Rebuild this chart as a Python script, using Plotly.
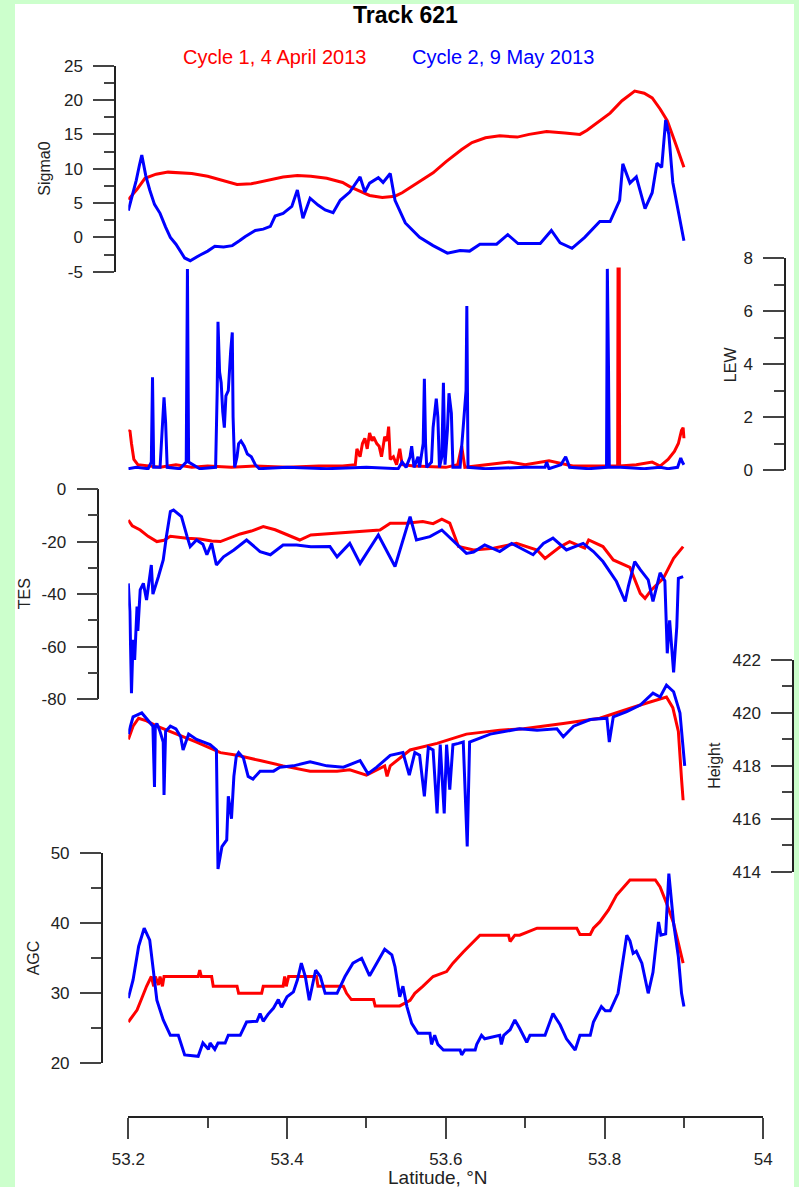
import plotly.graph_objects as go

# ---------------- DATA (latitude in deg N) ----------------
sig_c1_lat = [53.200, 53.211, 53.221, 53.235, 53.250, 53.265, 53.280, 53.300, 53.320, 53.337, 53.355, 53.375,
              53.395, 53.413, 53.430, 53.450, 53.470, 53.479, 53.490, 53.504, 53.520, 53.536, 53.545, 53.560,
              53.584, 53.600, 53.620, 53.633, 53.650, 53.668, 53.690, 53.705, 53.727, 53.750, 53.769, 53.778,
              53.795, 53.807, 53.822, 53.838, 53.850, 53.860, 53.870, 53.879, 53.890, 53.900]
sig_c1 = [5.5, 7.0, 8.6, 9.2, 9.5, 9.4, 9.3, 8.9, 8.3, 7.7, 7.8, 8.3,
          8.8, 9.0, 8.9, 8.6, 8.0, 7.4, 6.8, 6.1, 5.8, 6.0, 6.5, 7.6,
          9.4, 11.0, 12.8, 13.8, 14.5, 14.8, 14.6, 15.0, 15.4, 15.2, 15.0, 15.6,
          17.0, 18.1, 19.9, 21.3, 21.0, 20.3, 18.7, 17.0, 13.5, 10.2]

sig_c2_lat = [53.200, 53.206, 53.210, 53.214, 53.217, 53.222, 53.227, 53.233, 53.240, 53.247, 53.253, 53.260,
              53.265, 53.271, 53.278, 53.285, 53.290, 53.300, 53.309, 53.320, 53.331, 53.340, 53.347, 53.360,
              53.370, 53.379, 53.385, 53.395, 53.406, 53.413, 53.420, 53.429, 53.439, 53.448, 53.458, 53.467,
              53.479, 53.492, 53.498, 53.504, 53.515, 53.521, 53.530, 53.536, 53.542, 53.549, 53.567, 53.584,
              53.602, 53.618, 53.630, 53.643, 53.664, 53.678, 53.691, 53.719, 53.733, 53.744, 53.759, 53.775,
              53.794, 53.807, 53.819, 53.823, 53.832, 53.840, 53.851, 53.860, 53.866, 53.872, 53.877, 53.881,
              53.886, 53.900]
sig_c2 = [3.9, 6.5, 8.3, 10.5, 12.0, 9.0, 6.9, 4.8, 3.5, 1.5, 0.0, -1.0,
          -1.9, -3.0, -3.4, -3.0, -2.6, -2.0, -1.3, -1.4, -1.2, -0.5, 0.1, 1.0,
          1.2, 1.6, 3.1, 3.5, 4.5, 6.9, 2.8, 5.7, 4.7, 4.0, 3.6, 5.4,
          6.6, 8.8, 6.6, 7.9, 8.7, 8.0, 9.3, 5.4, 3.9, 2.1, 0.0, -1.2,
          -2.3, -1.9, -2.0, -1.0, -1.0, 0.4, -0.9, -0.9, 1.0, -0.8, -1.6, 0.0,
          2.3, 2.3, 5.4, 10.7, 7.9, 8.8, 4.2, 6.5, 10.8, 10.2, 17.1, 15.0,
          8.0, -0.5]

lew_c1_lat = [53.200, 53.202, 53.204, 53.207, 53.212, 53.225, 53.240, 53.260, 53.280, 53.300, 53.330, 53.360,
              53.400, 53.440, 53.470, 53.486, 53.488, 53.492, 53.495, 53.498, 53.501, 53.504, 53.507, 53.509,
              53.513, 53.516, 53.519, 53.523, 53.526, 53.528, 53.530, 53.534, 53.538, 53.542, 53.545, 53.560,
              53.600, 53.615, 53.620, 53.624, 53.650, 53.680, 53.700, 53.730, 53.760, 53.800, 53.8165, 53.817,
              53.8185, 53.819, 53.840, 53.860, 53.870, 53.880, 53.888, 53.893, 53.897, 53.899, 53.900]
lew_c1 = [1.45, 1.5, 1.0, 0.4, 0.2, 0.15, 0.1, 0.2, 0.1, 0.15, 0.1, 0.15,
          0.1, 0.15, 0.15, 0.2, 0.8, 0.5, 1.0, 1.2, 0.8, 1.4, 1.1, 1.25,
          1.0, 0.9, 0.5, 1.26, 1.1, 1.64, 0.4, 0.5, 0.2, 0.8, 0.2, 0.15,
          0.1, 0.2, 0.9, 0.1, 0.2, 0.3, 0.2, 0.35, 0.15, 0.15, 0.15, 7.6,
          7.6, 0.15, 0.2, 0.3, 0.15, 0.4, 0.7, 1.0, 1.5, 1.6, 1.2]

lew_c2_lat = [53.200, 53.210, 53.225, 53.229, 53.2305, 53.232, 53.240, 53.243, 53.245, 53.247, 53.249, 53.265,
              53.273, 53.2745, 53.276, 53.290, 53.310, 53.312, 53.313, 53.315, 53.317, 53.319, 53.321, 53.323,
              53.326, 53.329, 53.331, 53.332, 53.334, 53.337, 53.339, 53.342, 53.346, 53.350, 53.355, 53.360,
              53.365, 53.400, 53.450, 53.500, 53.540, 53.545, 53.550, 53.555, 53.557, 53.560, 53.565, 53.567,
              53.5715, 53.573, 53.5745, 53.576, 53.582, 53.584, 53.588, 53.590, 53.592, 53.595, 53.597, 53.599,
              53.602, 53.604, 53.607, 53.609, 53.618, 53.6255, 53.6265, 53.628, 53.650, 53.700, 53.725, 53.727,
              53.730, 53.745, 53.751, 53.756, 53.780, 53.8025, 53.803, 53.8035, 53.805, 53.806, 53.820, 53.850,
              53.870, 53.880, 53.892, 53.896, 53.898, 53.900]
lew_c2 = [0.05, 0.1, 0.05, 0.3, 3.5, 0.1, 0.1, 1.5, 2.75, 1.8, 0.1, 0.05,
          0.3, 7.6, 0.3, 0.05, 0.1, 3.0, 5.6, 3.7, 3.3, 2.2, 1.6, 2.8,
          3.0, 4.5, 5.2, 2.0, 0.1, 0.5, 1.0, 1.1, 0.9, 0.6, 0.5, 0.2,
          0.05, 0.1, 0.05, 0.1, 0.05, 0.3, 0.1, 0.5, 0.9, 0.1, 0.5, 0.1,
          1.0, 3.45, 1.0, 0.1, 0.3, 1.6, 2.7, 2.0, 0.1, 0.5, 3.3, 0.2,
          1.5, 2.9, 2.15, 0.1, 0.1, 3.0, 6.2, 0.1, 0.05, 0.1, 0.1, 0.3,
          0.05, 0.2, 0.5, 0.1, 0.05, 0.1, 3.8, 7.6, 3.8, 0.1, 0.1, 0.05,
          0.1, 0.05, 0.1, 0.45, 0.3, 0.2]

tes_c1_lat = [53.200, 53.205, 53.215, 53.225, 53.236, 53.245, 53.253, 53.265, 53.274, 53.290, 53.305, 53.316,
              53.330, 53.341, 53.355, 53.370, 53.385, 53.395, 53.416, 53.430, 53.454, 53.476, 53.500, 53.517,
              53.530, 53.550, 53.571, 53.584, 53.595, 53.605, 53.616, 53.635, 53.660, 53.689, 53.715, 53.725,
              53.744, 53.756, 53.775, 53.780, 53.798, 53.811, 53.832, 53.845, 53.851, 53.859, 53.874, 53.887,
              53.899]
tes_c1 = [-11.8, -14.0, -15.6, -18.0, -20.0, -19.5, -18.0, -18.5, -18.7, -19.0, -19.8, -20.0,
          -18.5, -17.1, -16.0, -14.3, -15.5, -16.8, -19.4, -17.5, -16.9, -16.5, -16.0, -15.6,
          -13.0, -13.0, -12.4, -13.2, -11.5, -13.0, -21.9, -23.2, -22.5, -20.7, -23.2, -26.4,
          -22.0, -20.0, -22.5, -19.4, -21.9, -27.0, -29.8, -39.7, -41.6, -38.4, -34.0, -26.4,
          -21.9]

tes_c2_lat = [53.200, 53.202, 53.204, 53.206, 53.208, 53.211, 53.212, 53.215, 53.219, 53.223, 53.229, 53.231,
              53.238, 53.244, 53.248, 53.253, 53.257, 53.267, 53.274, 53.278, 53.286, 53.294, 53.299, 53.305,
              53.311, 53.320, 53.333, 53.349, 53.366, 53.379, 53.395, 53.412, 53.430, 53.454, 53.463, 53.479,
              53.492, 53.515, 53.536, 53.555, 53.563, 53.580, 53.595, 53.614, 53.626, 53.635, 53.649, 53.668,
              53.683, 53.710, 53.723, 53.735, 53.752, 53.773, 53.786, 53.798, 53.815, 53.826, 53.830, 53.838,
              53.845, 53.855, 53.861, 53.870, 53.876, 53.879, 53.882, 53.887, 53.891, 53.893, 53.899]
tes_c2 = [-35.9, -46.6, -77.7, -57.4, -65.0, -44.7, -54.0, -38.4, -35.9, -42.2, -28.9, -40.0,
          -33.3, -27.0, -18.1, -8.6, -8.0, -10.5, -18.0, -21.9, -19.4, -21.0, -25.0, -20.7,
          -28.9, -25.8, -23.2, -19.4, -23.8, -25.0, -21.3, -21.3, -22.0, -21.9, -25.8, -20.7,
          -28.3, -17.5, -29.5, -10.5, -19.4, -18.1, -15.6, -21.3, -24.5, -24.0, -21.3, -23.8,
          -20.7, -25.0, -20.7, -18.7, -23.2, -20.7, -23.8, -27.6, -35.2, -42.8, -37.0, -27.6,
          -30.7, -34.6, -42.8, -31.9, -35.0, -62.5, -50.0, -69.8, -52.5, -34.0, -33.3]

hgt_c1_lat = [53.200, 53.206, 53.213, 53.223, 53.236, 53.261, 53.286, 53.316, 53.337, 53.366, 53.395, 53.429,
              53.463, 53.479, 53.496, 53.500, 53.523, 53.526, 53.530, 53.555, 53.589, 53.626, 53.668, 53.698,
              53.748, 53.794, 53.845, 53.878, 53.886, 53.893, 53.897, 53.899]
hgt_c1 = [419.0, 419.5, 419.8, 419.7, 419.5, 419.2, 418.9, 418.5, 418.4, 418.2, 418.0, 417.8,
          417.8, 417.85, 417.7, 417.65, 418.0, 417.6, 418.0, 418.6, 418.85, 419.2, 419.35, 419.4,
          419.6, 419.8, 420.3, 420.6, 420.2, 419.3, 417.5, 416.7]

hgt_c2_lat = [53.200, 53.206, 53.217, 53.225, 53.231, 53.233, 53.234, 53.236, 53.240, 53.244, 53.245, 53.247,
              53.253, 53.260, 53.266, 53.269, 53.276, 53.286, 53.303, 53.311, 53.313, 53.318, 53.324, 53.326,
              53.330, 53.333, 53.336, 53.339, 53.345, 53.351, 53.357, 53.366, 53.383, 53.391, 53.408, 53.429,
              53.450, 53.471, 53.492, 53.502, 53.513, 53.530, 53.546, 53.554, 53.561, 53.567, 53.573, 53.578,
              53.584, 53.589, 53.593, 53.598, 53.601, 53.605, 53.609, 53.616, 53.622, 53.627, 53.630, 53.656,
              53.677, 53.693, 53.715, 53.740, 53.748, 53.761, 53.782, 53.803, 53.806, 53.811, 53.828, 53.845,
              53.861, 53.870, 53.878, 53.887, 53.895, 53.899, 53.901]
hgt_c2 = [419.2, 419.85, 420.0, 419.7, 419.5, 417.2, 419.5, 419.6, 419.3, 418.9, 416.9, 419.3,
          419.5, 419.4, 419.1, 418.6, 419.2, 419.0, 418.8, 418.6, 414.1, 414.95, 415.2, 416.85,
          416.0, 417.6, 418.35, 418.5, 418.3, 417.6, 417.5, 417.8, 417.8, 417.95, 418.0, 418.15,
          418.0, 417.95, 418.2, 417.7, 417.95, 418.4, 418.5, 417.65, 418.5, 418.4, 416.85, 418.7,
          418.6, 416.2, 418.8, 416.2, 418.8, 417.1, 418.8, 418.85, 418.9, 414.95, 418.9, 419.2,
          419.3, 419.4, 419.35, 419.4, 419.1, 419.5, 419.75, 419.8, 418.9, 419.85, 420.05, 420.3,
          420.75, 420.6, 421.05, 420.8, 420.0, 418.7, 418.0]

agc_c1_lat = [53.200, 53.211, 53.217, 53.223, 53.229, 53.232, 53.234, 53.238, 53.240, 53.243, 53.245, 53.288,
              53.290, 53.292, 53.305, 53.307, 53.337, 53.339, 53.368, 53.370, 53.395, 53.397, 53.399, 53.402,
              53.437, 53.439, 53.471, 53.475, 53.481, 53.509, 53.511, 53.542, 53.555, 53.561, 53.571, 53.584,
              53.601, 53.609, 53.622, 53.633, 53.643, 53.679, 53.681, 53.687, 53.693, 53.715, 53.765, 53.769,
              53.782, 53.786, 53.794, 53.805, 53.815, 53.832, 53.864, 53.870, 53.878, 53.887, 53.899]
agc_c1 = [25.9, 27.6, 29.3, 31.0, 32.4, 31.0, 32.4, 31.2, 32.4, 31.0, 32.4, 32.4,
          33.3, 32.4, 32.4, 31.0, 31.0, 30.0, 30.0, 31.0, 31.0, 32.4, 31.0, 32.4,
          32.4, 31.0, 31.0, 30.0, 29.1, 29.1, 28.2, 28.2, 29.0, 30.0, 31.0, 32.4,
          33.1, 34.3, 35.9, 37.1, 38.3, 38.3, 37.4, 38.3, 38.3, 39.3, 39.3, 38.4,
          38.4, 39.3, 40.2, 41.9, 44.0, 46.2, 46.2, 45.2, 42.9, 40.0, 34.3]

agc_c2_lat = [53.200, 53.206, 53.213, 53.220, 53.227, 53.236, 53.244, 53.253, 53.263, 53.271, 53.288, 53.294,
              53.301, 53.303, 53.309, 53.313, 53.322, 53.326, 53.341, 53.349, 53.362, 53.366, 53.370, 53.376,
              53.383, 53.389, 53.393, 53.400, 53.408, 53.413, 53.418, 53.423, 53.428, 53.432, 53.436, 53.442,
              53.448, 53.463, 53.467, 53.473, 53.483, 53.494, 53.504, 53.517, 53.523, 53.532, 53.536, 53.542,
              53.546, 53.551, 53.557, 53.565, 53.580, 53.582, 53.586, 53.590, 53.597, 53.618, 53.620, 53.624,
              53.637, 53.639, 53.645, 53.649, 53.668, 53.670, 53.673, 53.681, 53.687, 53.693, 53.702, 53.706,
              53.725, 53.735, 53.744, 53.752, 53.763, 53.769, 53.782, 53.786, 53.796, 53.801, 53.807, 53.817,
              53.824, 53.828, 53.832, 53.836, 53.840, 53.847, 53.855, 53.861, 53.868, 53.871, 53.877, 53.881,
              53.887, 53.893, 53.897, 53.900]
agc_c2 = [29.3, 31.9, 36.7, 39.3, 37.6, 29.0, 26.2, 24.0, 24.0, 21.2, 21.0, 22.9,
          22.0, 22.9, 22.0, 22.9, 22.9, 24.0, 24.0, 25.9, 26.0, 27.1, 26.0, 27.0,
          27.9, 29.1, 28.0, 29.5, 30.2, 31.9, 34.3, 32.4, 29.0, 31.0, 33.3, 32.4,
          30.0, 30.0, 31.0, 32.4, 34.3, 35.0, 32.5, 35.2, 36.3, 35.5, 33.8, 29.5,
          31.0, 28.1, 25.7, 24.3, 24.3, 22.7, 24.0, 22.7, 21.9, 21.9, 21.2, 21.9,
          21.9, 22.7, 24.0, 23.5, 24.0, 22.7, 24.0, 24.8, 26.2, 25.0, 23.0, 24.0,
          24.0, 27.1, 25.5, 23.5, 21.9, 24.0, 24.0, 25.9, 28.1, 27.5, 27.5, 30.0,
          35.7, 38.3, 37.5, 35.7, 36.0, 34.3, 30.0, 33.0, 40.2, 38.3, 38.5, 47.1,
          40.0, 35.2, 30.0, 28.1]

x_tickvals = [53.2, 53.4, 53.6, 53.8, 54.0]
x_ticktext = ["53.2", "53.4", "53.6", "53.8", "54"]
sig_ticks = [-5, 0, 5, 10, 15, 20, 25]
lew_ticks = [0, 2, 4, 6, 8]
tes_ticks = [-80, -60, -40, -20, 0]
hgt_ticks = [414, 416, 418, 420, 422]
agc_ticks = [20, 30, 40, 50]

title_text = "Track 621"
name_c1 = "Cycle 1, 4 April 2013"
name_c2 = "Cycle 2, 9 May 2013"

# ---------------- LAYOUT GEOMETRY (pixels) ----------------
W, H = 799, 1187
ML, MR, MT, MB = 98, 6, 60, 70
PW = W - ML - MR
PH = H - MT - MB


def fx(px):
    return (px - ML) / PW


def fy(py):
    return (H - MB - py) / PH


RED = "#ff0000"
BLUE = "#0000ff"
AX = "#222222"
TK = "#444444"
FONT = "Liberation Sans, Arial, sans-serif"

fig = go.Figure()

panels = [
    # key, c1 lat, c1 val, c2 lat, c2 val, ticks, minor, top px, bottom px, axis x px, title, title x px
    ("y", sig_c1_lat, sig_c1, sig_c2_lat, sig_c2, sig_ticks, 2.5, 65.7, 271.7, 115.0, "Sigma0", 45),
    ("y2", lew_c1_lat, lew_c1, lew_c2_lat, lew_c2, lew_ticks, 1, 258.3, 470.0, 785.0, "LEW", 730),
    ("y3", tes_c1_lat, tes_c1, tes_c2_lat, tes_c2, tes_ticks, 10, 489.0, 699.3, 98.3, "TES", 24),
    ("y4", hgt_c1_lat, hgt_c1, hgt_c2_lat, hgt_c2, hgt_ticks, 1, 660.0, 871.7, 793.0, "Height", 715),
    ("y5", agc_c1_lat, agc_c1, agc_c2_lat, agc_c2, agc_ticks, 5, 853.3, 1063.3, 101.7, "AGC", 33),
]

annotations = []
layout_axes = {}
for key, l1, v1, l2, v2, ticks, minor, top, bot, axpx, ttl, tpx in panels:
    fig.add_trace(go.Scatter(x=l1, y=v1, xaxis="x", yaxis=key, mode="lines",
                             line=dict(color=RED, width=3), name=name_c1, showlegend=False))
    fig.add_trace(go.Scatter(x=l2, y=v2, xaxis="x", yaxis=key, mode="lines",
                             line=dict(color=BLUE, width=3), name=name_c2, showlegend=False))
    lname = "yaxis" if key == "y" else "yaxis" + key[1:]
    layout_axes[lname] = dict(
        domain=[fy(bot), fy(top)],
        range=[ticks[0], ticks[-1]],
        anchor="free", position=min(1.0, max(0.0, fx(axpx))), side="left",
        showline=True, linecolor=AX, linewidth=1.5,
        ticks="outside", ticklen=21, tickwidth=1.5, tickcolor=TK,
        tickmode="array", tickvals=ticks, ticktext=[str(t) for t in ticks],
        tickfont=dict(family=FONT, size=17, color="#222222"),
        ticklabelstandoff=7,
        minor=dict(tickmode="linear", tick0=ticks[0], dtick=minor, ticks="outside",
                   ticklen=10, tickwidth=1.5, tickcolor=TK, showgrid=False),
        showgrid=False, zeroline=False, fixedrange=True,
    )
    annotations.append(dict(text=ttl, x=fx(tpx), y=fy((top + bot) / 2), xref="paper", yref="paper",
                            textangle=-90, showarrow=False, xanchor="center", yanchor="middle",
                            font=dict(family=FONT, size=16, color="#222222")))

annotations += [
    dict(text="<b>" + title_text + "</b>", x=fx(405), y=fy(15), xref="paper", yref="paper",
         showarrow=False, xanchor="center", yanchor="middle",
         font=dict(family=FONT, size=23, color="#000000")),
    dict(text=name_c1, x=fx(274), y=fy(57), xref="paper", yref="paper",
         showarrow=False, xanchor="center", yanchor="middle",
         font=dict(family=FONT, size=20, color=RED)),
    dict(text=name_c2, x=fx(502.5), y=fy(57), xref="paper", yref="paper",
         showarrow=False, xanchor="center", yanchor="middle",
         font=dict(family=FONT, size=20, color=BLUE)),
    dict(text="Latitude, °N", x=fx(438), y=fy(1177), xref="paper", yref="paper",
         showarrow=False, xanchor="center", yanchor="middle",
         font=dict(family=FONT, size=19, color="#222222")),
]

fig.update_layout(
    width=W, height=H,
    margin=dict(l=ML, r=MR, t=MT, b=MB, autoexpand=False),
    paper_bgcolor="#ccffcc", plot_bgcolor="rgba(0,0,0,0)",
    xaxis=dict(domain=[fx(128.3), fx(763.3)], range=[53.2, 54.0], anchor="free", position=0,
               showline=True, linecolor=AX, linewidth=1.5,
               ticks="outside", ticklen=21, tickwidth=1.5, tickcolor=TK,
               tickmode="array", tickvals=x_tickvals, ticktext=x_ticktext,
               tickfont=dict(family=FONT, size=17, color="#222222"),
               ticklabelstandoff=6,
               minor=dict(tickmode="linear", tick0=53.2, dtick=0.1, ticks="outside",
                          ticklen=10, tickwidth=1.5, tickcolor=TK, showgrid=False),
               showgrid=False, zeroline=False, fixedrange=True),
    annotations=annotations,
    shapes=[dict(type="rect", xref="paper", yref="paper", layer="below",
                 x0=fx(15), x1=fx(794), y0=fy(1187), y1=fy(4),
                 fillcolor="#ffffff", line=dict(width=0))],
    showlegend=False,
    **layout_axes,
)

fig.write_html("out.html", config={"displayModeBar": False},
               post_script="document.body.style.margin='0';document.body.style.overflow='hidden';")
